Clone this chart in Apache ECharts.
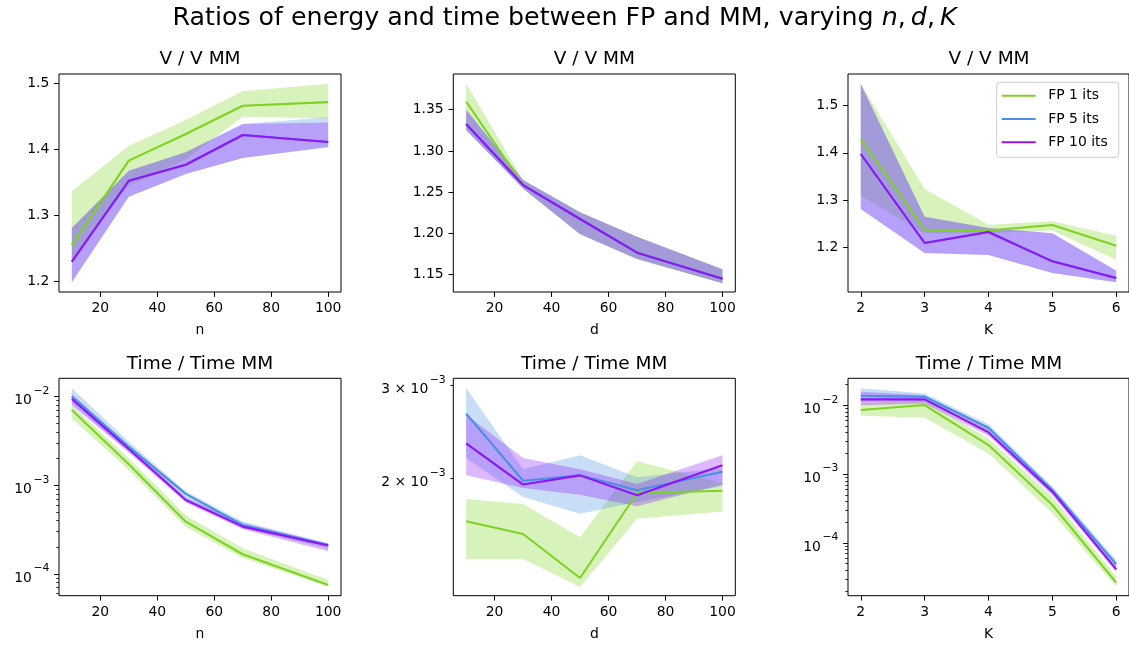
<!DOCTYPE html>
<html><head><meta charset="utf-8">
<script src="https://cdn.jsdelivr.net/npm/echarts@6/dist/echarts.min.js"></script>
<style>html,body{margin:0;padding:0;background:#fff}#c{width:1129px;height:646px}</style>
</head><body><div id="c"></div>
<script>
// ---------- data ----------
const seriesNames = ['FP 1 its', 'FP 5 its', 'FP 10 its'];
const nValues = [10, 30, 50, 70, 100];
const dValues = [10, 30, 50, 70, 100];
const kValues = [2, 3, 4, 5, 6];
const xTicksND = [20, 40, 60, 80, 100];
const xTicksK = [2, 3, 4, 5, 6];
const yTicksVn = [1.2, 1.3, 1.4, 1.5];
const yTicksVd = [1.15, 1.2, 1.25, 1.3, 1.35];
const yTicksVk = [1.2, 1.3, 1.4, 1.5];
const yTicksLog = [1e-4, 1e-3, 1e-2];
const yTicksTd = [2e-3, 3e-3];
const yMinorTn = [6e-5, 7e-5, 8e-5, 9e-5, 2e-4, 3e-4, 4e-4, 5e-4, 6e-4, 7e-4, 8e-4, 9e-4, 2e-3, 3e-3, 4e-3, 5e-3, 6e-3, 7e-3, 8e-3, 9e-3];
const yMinorTk = [2e-5, 3e-5, 4e-5, 5e-5, 6e-5, 7e-5, 8e-5, 9e-5, 2e-4, 3e-4, 4e-4, 5e-4, 6e-4, 7e-4, 8e-4, 9e-4, 2e-3, 3e-3, 4e-3, 5e-3, 6e-3, 7e-3, 8e-3, 9e-3, 2e-2];

// V / V MM vs n
const vN_fp1 = [1.255, 1.383, 1.4235, 1.4666, 1.472];
const vN_fp1_lo = [1.235, 1.345, 1.385, 1.4498, 1.447];
const vN_fp1_hi = [1.3364, 1.4057, 1.445, 1.4884, 1.500];
const vN_fp5 = [1.2294, 1.3525, 1.3768, 1.422, 1.4113];
const vN_fp5_lo = [1.198, 1.3282, 1.3627, 1.387, 1.403];
const vN_fp5_hi = [1.2806, 1.3677, 1.3957, 1.4387, 1.449];
const vN_fp10 = [1.2294, 1.3525, 1.3768, 1.422, 1.4113];
const vN_fp10_lo = [1.198, 1.3282, 1.3627, 1.387, 1.404];
const vN_fp10_hi = [1.2806, 1.3677, 1.3957, 1.4387, 1.441];

// V / V MM vs d
const vD_fp1 = [1.360, 1.2587, 1.2175, 1.1767, 1.1452];
const vD_fp1_lo = [1.325, 1.2546, 1.1989, 1.169, 1.1395];
const vD_fp1_hi = [1.3815, 1.2647, 1.2256, 1.196, 1.1565];
const vD_fp5 = [1.3326, 1.2587, 1.2175, 1.1767, 1.1452];
const vD_fp5_lo = [1.3254, 1.2546, 1.1989, 1.169, 1.1395];
const vD_fp5_hi = [1.350, 1.2647, 1.2256, 1.196, 1.1565];
const vD_fp10 = [1.3326, 1.2587, 1.2175, 1.1767, 1.1452];
const vD_fp10_lo = [1.3254, 1.2546, 1.1989, 1.169, 1.1395];
const vD_fp10_hi = [1.350, 1.2647, 1.2256, 1.196, 1.1565];

// V / V MM vs K
const vK_fp1 = [1.4293, 1.2367, 1.235, 1.2467, 1.2028];
const vK_fp1_lo = [1.309, 1.229, 1.229, 1.235, 1.173];
const vK_fp1_hi = [1.546, 1.323, 1.2474, 1.2545, 1.224];
const vK_fp5 = [1.3975, 1.2085, 1.2319, 1.1696, 1.1342];
const vK_fp5_lo = [1.2807, 1.1873, 1.183, 1.1448, 1.125];
const vK_fp5_hi = [1.546, 1.2643, 1.2403, 1.229, 1.1497];
const vK_fp10 = [1.3975, 1.2085, 1.2319, 1.1696, 1.1342];
const vK_fp10_lo = [1.2807, 1.1873, 1.183, 1.1448, 1.125];
const vK_fp10_hi = [1.546, 1.2643, 1.2403, 1.229, 1.1497];

// Time / Time MM vs n
const tN_fp1 = [7.08e-3, 1.73e-3, 3.89e-4, 1.67e-4, 7.52e-5];
const tN_fp1_lo = [5.7e-3, 1.48e-3, 3.42e-4, 1.51e-4, 7.2e-5];
const tN_fp1_hi = [8.05e-3, 2.0e-3, 4.61e-4, 1.95e-4, 8.57e-5];
const tN_fp5 = [1.0e-2, 2.73e-3, 8.0e-4, 3.57e-4, 2.12e-4];
const tN_fp5_lo = [8.3e-3, 2.4e-3, 7.15e-4, 3.3e-4, 1.93e-4];
const tN_fp5_hi = [1.245e-2, 3.1e-3, 8.5e-4, 3.9e-4, 2.22e-4];
const tN_fp10 = [9.4e-3, 2.57e-3, 6.84e-4, 3.42e-4, 2.09e-4];
const tN_fp10_lo = [8.0e-3, 2.35e-3, 6.4e-4, 3.2e-4, 1.8e-4];
const tN_fp10_hi = [1.07e-2, 2.8e-3, 7.3e-4, 3.75e-4, 2.2e-4];

// Time / Time MM vs d
const tD_fp1 = [1.661e-3, 1.571e-3, 1.297e-3, 1.879e-3, 1.898e-3];
const tD_fp1_lo = [1.409e-3, 1.409e-3, 1.247e-3, 1.680e-3, 1.734e-3];
const tD_fp1_hi = [1.830e-3, 1.791e-3, 1.549e-3, 2.158e-3, 1.960e-3];
const tD_fp5 = [2.655e-3, 1.982e-3, 2.029e-3, 1.901e-3, 2.062e-3];
const tD_fp5_lo = [2.188e-3, 1.846e-3, 1.717e-3, 1.807e-3, 1.935e-3];
const tD_fp5_hi = [2.970e-3, 2.083e-3, 2.214e-3, 2.012e-3, 2.095e-3];
const tD_fp10 = [2.333e-3, 1.949e-3, 2.029e-3, 1.860e-3, 2.120e-3];
const tD_fp10_lo = [2.029e-3, 1.920e-3, 1.865e-3, 1.774e-3, 1.950e-3];
const tD_fp10_hi = [2.643e-3, 2.188e-3, 2.083e-3, 1.953e-3, 2.214e-3];

// Time / Time MM vs K
const tK_fp1 = [8.55e-3, 1.01e-2, 2.65e-3, 3.56e-4, 2.65e-5];
const tK_fp1_lo = [7.06e-3, 6.6e-3, 2.0e-3, 2.7e-4, 2.32e-5];
const tK_fp1_hi = [1.07e-2, 1.2e-2, 3.3e-3, 4.7e-4, 3.24e-5];
const tK_fp5 = [1.377e-2, 1.333e-2, 4.73e-3, 5.88e-4, 4.94e-5];
const tK_fp5_lo = [1.13e-2, 1.15e-2, 4.1e-3, 5.2e-4, 4.4e-5];
const tK_fp5_hi = [1.77e-2, 1.49e-2, 5.3e-3, 6.6e-4, 5.65e-5];
const tK_fp10 = [1.222e-2, 1.222e-2, 4.04e-3, 5.56e-4, 4.14e-5];
const tK_fp10_lo = [1.0e-2, 1.05e-2, 3.6e-3, 4.9e-4, 3.78e-5];
const tK_fp10_hi = [1.58e-2, 1.4e-2, 4.5e-3, 6.3e-4, 4.8e-5];

// ---------- layout / style ----------
const colors = ['#7ed321', '#4a90e2', '#9013fe'];
const FONT = 'DejaVu Sans';
const colLeft = [59, 453.3, 848];
const rowTop = [74, 378.3];
const gw = 282;

const panels = [
  {title: 'V / V MM', xName: 'n', x: nValues, xTicks: xTicksND, xr: [5.5, 104.5], log: false, yr: [1.1833, 1.5148], yTicks: yTicksVn, fmt: v => v.toFixed(1),
   s: [[vN_fp1, vN_fp1_lo, vN_fp1_hi], [vN_fp5, vN_fp5_lo, vN_fp5_hi], [vN_fp10, vN_fp10_lo, vN_fp10_hi]]},
  {title: 'V / V MM', xName: 'd', x: dValues, xTicks: xTicksND, xr: [5.5, 104.5], log: false, yr: [1.129, 1.3933], yTicks: yTicksVd, fmt: v => v.toFixed(2),
   s: [[vD_fp1, vD_fp1_lo, vD_fp1_hi], [vD_fp5, vD_fp5_lo, vD_fp5_hi], [vD_fp10, vD_fp10_lo, vD_fp10_hi]]},
  {title: 'V / V MM', xName: 'K', x: kValues, xTicks: xTicksK, xr: [1.8, 6.2], log: false, yr: [1.1045, 1.5673], yTicks: yTicksVk, fmt: v => v.toFixed(1),
   s: [[vK_fp1, vK_fp1_lo, vK_fp1_hi], [vK_fp5, vK_fp5_lo, vK_fp5_hi], [vK_fp10, vK_fp10_lo, vK_fp10_hi]]},
  {title: 'Time / Time MM', xName: 'n', x: nValues, xTicks: xTicksND, xr: [5.5, 104.5], log: true, yr: [5.69e-5, 0.0161], yTicks: yTicksLog, minor: yMinorTn, fmt: 'pow',
   s: [[tN_fp1, tN_fp1_lo, tN_fp1_hi], [tN_fp5, tN_fp5_lo, tN_fp5_hi], [tN_fp10, tN_fp10_lo, tN_fp10_hi]]},
  {title: 'Time / Time MM', xName: 'd', x: dValues, xTicks: xTicksND, xr: [5.5, 104.5], log: true, yr: [1.2006e-3, 3.098e-3], yTicks: yTicksTd, fmt: 'mant', shortTick: true,
   s: [[tD_fp1, tD_fp1_lo, tD_fp1_hi], [tD_fp5, tD_fp5_lo, tD_fp5_hi], [tD_fp10, tD_fp10_lo, tD_fp10_hi]]},
  {title: 'Time / Time MM', xName: 'K', x: kValues, xTicks: xTicksK, xr: [1.8, 6.2], log: true, yr: [1.714e-5, 0.0247], yTicks: yTicksLog, minor: yMinorTk, fmt: 'pow',
   s: [[tK_fp1, tK_fp1_lo, tK_fp1_hi], [tK_fp5, tK_fp5_lo, tK_fp5_hi], [tK_fp10, tK_fp10_lo, tK_fp10_hi]]}
];

const supRich = {
  b: {fontFamily: FONT, fontSize: 13.9, color: '#000', lineHeight: 22, verticalAlign: 'bottom'},
  s: {fontFamily: FONT, fontSize: 10.8, color: '#000', lineHeight: 11, verticalAlign: 'top', padding: [0, 0, 0, 1.5]}
};
function logFmt(v) {
  const e = Math.round(Math.log10(v));
  return '{b|10}{s|\u2212' + Math.abs(e) + '}';
}
function mantFmt(v) {
  const e = Math.floor(Math.log10(v) + 1e-9);
  const m = Math.round(v / Math.pow(10, e));
  return '{b|' + m + ' \u00d7 10}{s|\u2212' + Math.abs(e) + '}';
}

// band polygon drawn through the axis scales (api.coord), one shape per series
function bandRenderer(color) {
  return function (params, api) {
    if (params.dataIndexInside !== 0) return null;
    const n = params.dataInsideLength;
    const upper = [], lower = [];
    for (let j = 0; j < n; j++) {
      upper.push(api.coord([api.value(0, j), api.value(2, j)]));
      lower.push(api.coord([api.value(0, j), api.value(1, j)]));
    }
    const pts = upper.concat(lower.reverse());
    const cs = params.coordSys;
    return {
      type: 'polygon', shape: {points: pts},
      style: {fill: color, opacity: 0.3},
      clipPath: {type: 'rect', shape: {x: cs.x, y: cs.y, width: cs.width, height: cs.height}}
    };
  };
}

const grids = [], xAxes = [], yAxes = [], series = [], titles = [];
titles.push({
  text: 'Ratios of energy and time between FP and MM, varying {i|n},\u2009{i|d},\u2009{i|K}',
  left: 564.5, top: 6, textAlign: 'center', padding: 0,
  textStyle: {fontFamily: FONT, fontSize: 25.3, fontWeight: 'normal', color: '#000',
    rich: {i: {fontFamily: FONT, fontSize: 25.3, fontStyle: 'italic', color: '#000'}}}
});
const minorAxes = [];
panels.forEach((p, i) => {
  const col = i % 3, row = Math.floor(i / 3);
  const left = colLeft[col], top = rowTop[row];
  grids.push({left: left, top: top, width: gw, height: row === 0 ? 218 : 217.4, show: true,
    borderColor: '#000', borderWidth: 1, backgroundColor: '#fff', containLabel: false});
  titles.push({text: p.title, left: left + gw / 2, top: top - 24, textAlign: 'center', padding: 0,
    textStyle: {fontFamily: FONT, fontSize: 18.5, fontWeight: 'normal', color: '#000'}});
  xAxes.push({type: 'value', gridIndex: i, min: p.xr[0], max: p.xr[1],
    name: p.xName, nameLocation: 'middle', nameGap: 31.5,
    nameTextStyle: {fontFamily: FONT, fontSize: 13.9, color: '#000'},
    axisLine: {show: false, onZero: false},
    axisTick: {show: true, length: 4.86, customValues: p.xTicks, lineStyle: {color: '#000', width: 1}},
    axisLabel: {customValues: p.xTicks, margin: 9.7, fontFamily: FONT, fontSize: 13.9, color: '#000'},
    splitLine: {show: false}});
  const yMajor = {type: p.log ? 'log' : 'value', gridIndex: i, min: p.yr[0], max: p.yr[1], position: 'left',
    axisLine: {show: false, onZero: false},
    axisTick: {show: true, length: p.shortTick ? 2.78 : 4.86, customValues: p.yTicks, lineStyle: {color: '#000', width: 1}},
    axisLabel: {customValues: p.yTicks, margin: p.shortTick ? 7.6 : 9.7, fontFamily: FONT, fontSize: 13.9, color: '#000',
      formatter: p.fmt === 'pow' ? logFmt : (p.fmt === 'mant' ? mantFmt : p.fmt), rich: supRich},
    splitLine: {show: false}};
  if (p.log) yMajor.logBase = 10;
  yAxes.push(yMajor);
  if (p.minor) minorAxes.push({panel: i, minor: p.minor, yr: p.yr});
});
minorAxes.forEach(m => {
  yAxes.push({type: 'log', logBase: 10, gridIndex: m.panel, min: m.yr[0], max: m.yr[1], position: 'left',
    axisLine: {show: false, onZero: false},
    axisTick: {show: true, length: 2.78, customValues: m.minor, lineStyle: {color: '#000', width: 0.8}},
    axisLabel: {show: false}, splitLine: {show: false}});
});

// bands first (under all lines), in hue order
panels.forEach((p, i) => {
  p.s.forEach((trip, k) => {
    const [mean, lo, hi] = trip;
    series.push({type: 'custom', name: seriesNames[k] + ' band', xAxisIndex: i, yAxisIndex: i,
      data: p.x.map((xv, j) => [xv, lo[j], hi[j]]), encode: {x: 0, y: [1, 2]},
      renderItem: bandRenderer(colors[k]), silent: true, z: 1});
  });
});
panels.forEach((p, i) => {
  p.s.forEach((trip, k) => {
    const mean = trip[0];
    series.push({type: 'line', name: seriesNames[k], xAxisIndex: i, yAxisIndex: i,
      data: p.x.map((xv, j) => [xv, mean[j]]), symbol: 'none', showSymbol: false, z: 2,
      color: colors[k], lineStyle: {color: colors[k], width: 2.08}});
  });
});

const chart = echarts.init(document.getElementById('c'), null, {renderer: 'canvas'});
chart.setOption({
  animation: false,
  backgroundColor: '#fff',
  textStyle: {fontFamily: FONT},
  title: titles,
  grid: grids,
  xAxis: xAxes,
  yAxis: yAxes,
  legend: {data: seriesNames, orient: 'vertical', left: 996.7, top: 82.3, icon: 'rect',
    backgroundColor: 'rgba(255,255,255,0.8)', borderColor: '#cccccc', borderWidth: 1, borderRadius: 3,
    padding: [5.4, 11, 7, 5], itemGap: 7.3, itemWidth: 34, itemHeight: 2.1,
    textStyle: {fontFamily: FONT, fontSize: 13.9, color: '#000', lineHeight: 16, padding: [0, 0, 0, 7.6]}},
  series: series
});
</script></body></html>
